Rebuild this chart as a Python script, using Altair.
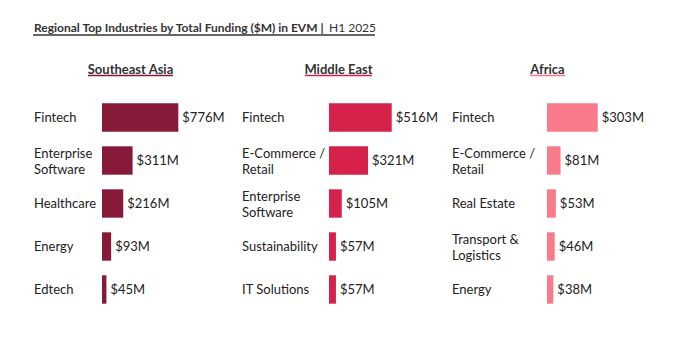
import altair as alt
import pandas as pd

FONT = "Lato"

sea_industries = ["Fintech", "Enterprise\nSoftware", "Healthcare", "Energy", "Edtech"]
sea_values = [776, 311, 216, 93, 45]

me_industries = ["Fintech", "E-Commerce /\nRetail", "Enterprise\nSoftware", "Sustainability", "IT Solutions"]
me_values = [516, 321, 105, 57, 57]

af_industries = ["Fintech", "E-Commerce /\nRetail", "Real Estate", "Transport &\nLogistics", "Energy"]
af_values = [303, 81, 53, 46, 38]

regions = ["Southeast Asia", "Middle East", "Africa"]
colors = ["#861A38", "#D6224B", "#F87A8B"]

main_title = "Regional Top Industries by Total Funding ($M) in EVM |"
main_sub = "H1 2025"


def frame(inds, vals):
    return pd.DataFrame({
        "rank": list(range(1, len(inds) + 1)),
        "industry": inds,
        "value": vals,
        "label": ["$" + str(v) + "M" for v in vals],
        "lines": [s.count("\n") + 1 for s in inds],
    })


def panel(inds, vals, region, color, width, dmax, label_x, title_cx, title_w, extra=None):
    df = frame(inds, vals)
    base = alt.Chart(df)
    y = alt.Y("rank:O", axis=None, sort="ascending",
              scale=alt.Scale(paddingInner=0.34, paddingOuter=0.17))
    x = alt.X("value:Q", axis=None, scale=alt.Scale(domain=[0, dmax], nice=False, zero=True))
    bars = base.mark_bar(color=color).encode(x=x, y=y)
    vtext = base.mark_text(align="left", baseline="middle", dx=4, font=FONT,
                           fontSize=13, color="#222222").encode(x=x, y=y, text="label:N")
    ctext1 = base.transform_filter("datum.lines == 1").mark_text(
        align="left", baseline="middle", font=FONT, fontSize=13, color="#222222").encode(
        x=alt.value(label_x), y=y, text="industry:N")
    ctext2 = base.transform_filter("datum.lines == 2").mark_text(
        align="left", baseline="middle", font=FONT, fontSize=13, dy=-7,
        lineHeight=16, lineBreak="\n", color="#222222").encode(
        x=alt.value(label_x), y=y, text="industry:N")
    tdf = pd.DataFrame({"t": [region]})
    ttext = alt.Chart(tdf).mark_text(align="center", baseline="alphabetic", font=FONT,
                                     fontSize=13, fontWeight="bold", color="#333333").encode(
        x=alt.value(title_cx), y=alt.value(-22), text="t:N")
    uline = alt.Chart(tdf).mark_rule(color=color, strokeWidth=1.5).encode(
        x=alt.value(title_cx - title_w / 2), x2=alt.value(title_cx + title_w / 2),
        y=alt.value(-20.5))
    layers = [bars, vtext, ctext1, ctext2, ttext, uline]
    if extra:
        layers += extra
    return alt.layer(*layers).properties(width=width, height=215)


# main title (drawn in the first panel)
mt = pd.DataFrame({"t": [main_title], "s": [main_sub]})
title_main = alt.Chart(mt).mark_text(align="left", baseline="alphabetic", font=FONT,
                                     fontSize=12, fontWeight="bold", color="#333333").encode(
    x=alt.value(-68), y=alt.value(-64), text="t:N")
title_sub = alt.Chart(mt).mark_text(align="left", baseline="alphabetic", font=FONT,
                                    fontSize=12, color="#333333").encode(
    x=alt.value(227), y=alt.value(-64), text="s:N")
title_line = alt.Chart(mt).mark_rule(color="#333333", strokeWidth=1.5).encode(
    x=alt.value(-69), x2=alt.value(273), y=alt.value(-61))

p1 = panel(sea_industries, sea_values, regions[0], colors[0], 120, 1220, -68, 28.5, 85,
           extra=[title_main, title_sub, title_line])
p2 = panel(me_industries, me_values, regions[1], colors[1], 111, 913, -87, 9.5, 67)
p3 = panel(af_industries, af_values, regions[2], colors[2], 110, 657, -95, 0.5, 35)

chart = alt.hconcat(p1, p2, p3, spacing=107, bounds="flush").resolve_scale(
    x="independent", y="independent"
).properties(
    padding={"left": 32, "top": 22, "right": 0, "bottom": 0},
    background="white",
).configure_view(stroke=None)

chart.save("out.html", embed_options={"renderer": "svg", "actions": False})
